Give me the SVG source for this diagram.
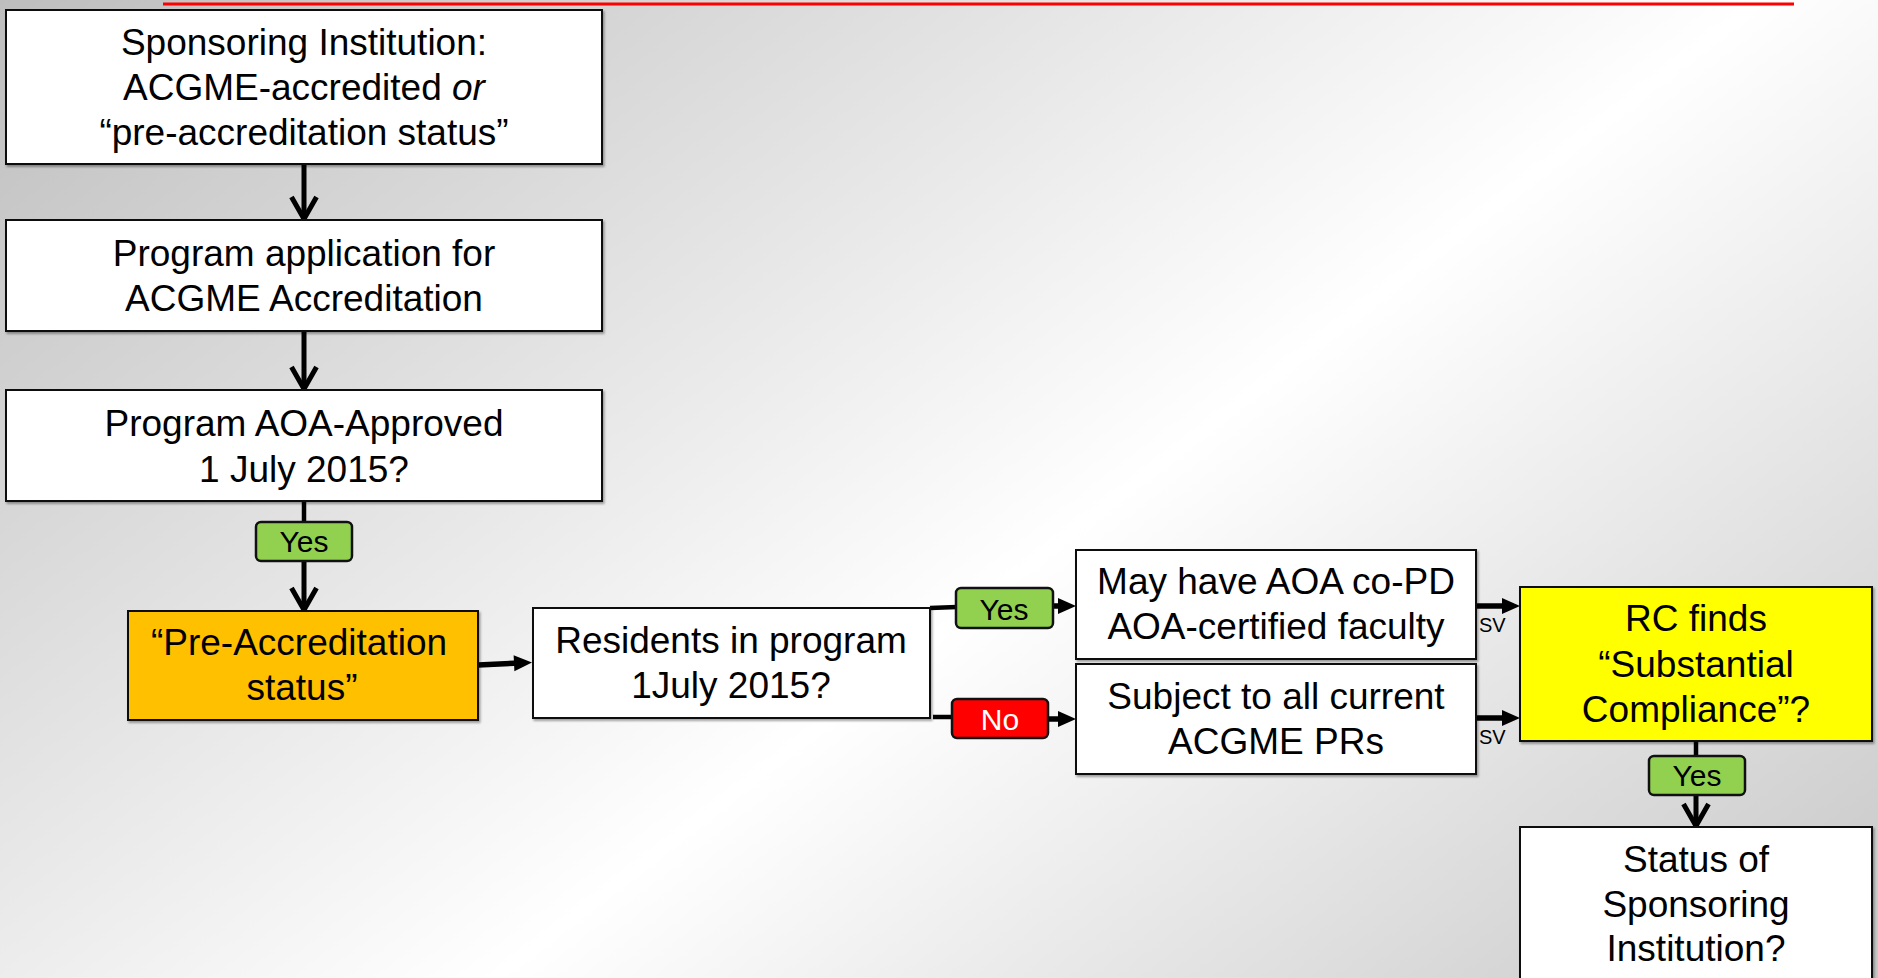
<svg xmlns="http://www.w3.org/2000/svg" width="1878" height="978" viewBox="0 0 1878 978">
<defs>
<linearGradient id="bg" gradientUnits="userSpaceOnUse" x1="0" y1="0" x2="1176" y2="1522">
<stop offset="0" stop-color="#bebebe"/>
<stop offset="0.56" stop-color="#ffffff"/>
<stop offset="1" stop-color="#c6c6c6"/>
</linearGradient>
<filter id="sh" x="-5%" y="-5%" width="110%" height="115%">
<feDropShadow dx="1.5" dy="2" stdDeviation="0.8" flood-color="#000" flood-opacity="0.35"/>
</filter>
<marker id="tri" markerUnits="userSpaceOnUse" markerWidth="20" markerHeight="18" refX="6" refY="8" orient="auto" overflow="visible">
<path d="M0,0 L18,8 L0,16 z" fill="#000"/>
</marker>
<marker id="vee" markerUnits="userSpaceOnUse" markerWidth="30" markerHeight="30" refX="22" refY="13.5" orient="auto" overflow="visible">
<path d="M0,1 L22,13.5 L0,26" fill="none" stroke="#000" stroke-width="5" stroke-linejoin="miter"/>
</marker>
</defs>
<style>
.box{fill:#fff;stroke:#111;stroke-width:2;filter:url(#sh)}
.t{font-family:"Liberation Sans",Arial,sans-serif;font-size:37px;fill:#000;text-anchor:middle}
.lbl{font-family:"Liberation Sans",Arial,sans-serif;font-size:30px;fill:#000;text-anchor:middle}
.sv{font-family:"Liberation Sans",Arial,sans-serif;font-size:20px;fill:#000}
.yes{fill:#92D050;stroke:#111;stroke-width:2.5}
.no{fill:#FF0000;stroke:#111;stroke-width:2.5}
.c{stroke:#000;fill:none}
.v{stroke-width:5;marker-end:url(#vee)}
.h{stroke-width:5.5;marker-end:url(#tri)}
.p{stroke-width:4.5}
</style>
<rect x="0" y="0" width="1878" height="978" fill="url(#bg)"/>
<line x1="163" y1="4" x2="1794" y2="4" stroke="#FF0000" stroke-width="3"/>

<g id="connectors">
<line class="c v" x1="304" y1="164" x2="304" y2="219"/>
<line class="c v" x1="304" y1="331" x2="304" y2="389"/>
<line class="c p" x1="304" y1="501" x2="304" y2="522"/>
<line class="c v" x1="304" y1="561" x2="304" y2="610"/>
<line class="c h" x1="478" y1="665" x2="520" y2="663"/>
<line class="c p" x1="930" y1="608" x2="957" y2="607"/>
<line class="c h" x1="1053" y1="606" x2="1064" y2="606"/>
<line class="c p" x1="933" y1="717" x2="953" y2="717"/>
<line class="c h" x1="1048" y1="719" x2="1064" y2="719"/>
<line class="c h" x1="1477" y1="606" x2="1508" y2="606"/>
<line class="c h" x1="1477" y1="718" x2="1508" y2="718"/>
<line class="c p" x1="1696" y1="741" x2="1696" y2="757"/>
<line class="c v" x1="1696" y1="795" x2="1696" y2="826"/>
</g>

<g id="sponsoring-institution">
<rect class="box" x="6" y="10" width="596" height="154"/>
<text class="t" x="304" y="55">Sponsoring Institution:</text>
<text class="t" x="304" y="100">ACGME-accredited <tspan font-style="italic">or</tspan></text>
<text class="t" x="304" y="145">“pre-accreditation status”</text>
</g>

<g id="program-application">
<rect class="box" x="6" y="220" width="596" height="111"/>
<text class="t" x="304" y="266">Program application for</text>
<text class="t" x="304" y="311">ACGME Accreditation</text>
</g>

<g id="aoa-approved">
<rect class="box" x="6" y="390" width="596" height="111"/>
<text class="t" x="304" y="436">Program AOA-Approved</text>
<text class="t" x="304" y="482">1 July 2015?</text>
</g>

<g id="yes-1">
<rect class="yes" x="256" y="522" width="96" height="39" rx="5"/>
<text class="lbl" x="304" y="552">Yes</text>
</g>

<g id="pre-accreditation">
<rect class="box" x="128" y="611" width="350" height="109" style="fill:#FFC000"/>
<text class="t" x="299" y="655">“Pre-Accreditation</text>
<text class="t" x="302" y="700">status”</text>
</g>

<g id="residents">
<rect class="box" x="533" y="608" width="397" height="110"/>
<text class="t" x="731" y="653">Residents in program</text>
<text class="t" x="731" y="698">1July 2015?</text>
</g>

<g id="yes-2">
<rect class="yes" x="956" y="588" width="97" height="40" rx="5"/>
<text class="lbl" x="1004" y="620">Yes</text>
</g>

<g id="no">
<rect class="no" x="952" y="699" width="96" height="39" rx="5"/>
<text class="lbl" x="1000" y="730" style="fill:#fff">No</text>
</g>

<g id="aoa-co-pd">
<rect class="box" x="1076" y="550" width="400" height="109"/>
<text class="t" x="1276" y="594">May have AOA co-PD</text>
<text class="t" x="1276" y="639">AOA-certified faculty</text>
</g>

<g id="acgme-prs">
<rect class="box" x="1076" y="664" width="400" height="110"/>
<text class="t" x="1276" y="709">Subject to all current</text>
<text class="t" x="1276" y="754">ACGME PRs</text>
</g>

<g id="sv-labels">
<text class="sv" x="1479" y="632">SV</text>
<text class="sv" x="1479" y="744">SV</text>
</g>

<g id="substantial-compliance">
<rect class="box" x="1520" y="587" width="352" height="154" style="fill:#FFFF00"/>
<text class="t" x="1696" y="631">RC finds</text>
<text class="t" x="1696" y="677">“Substantial</text>
<text class="t" x="1696" y="722">Compliance”?</text>
</g>

<g id="yes-3">
<rect class="yes" x="1649" y="756" width="96" height="39" rx="5"/>
<text class="lbl" x="1697" y="786">Yes</text>
</g>

<g id="status-sponsoring">
<rect class="box" x="1520" y="827" width="352" height="170"/>
<text class="t" x="1696" y="872">Status of</text>
<text class="t" x="1696" y="917">Sponsoring</text>
<text class="t" x="1696" y="961">Institution?</text>
</g>
</svg>
